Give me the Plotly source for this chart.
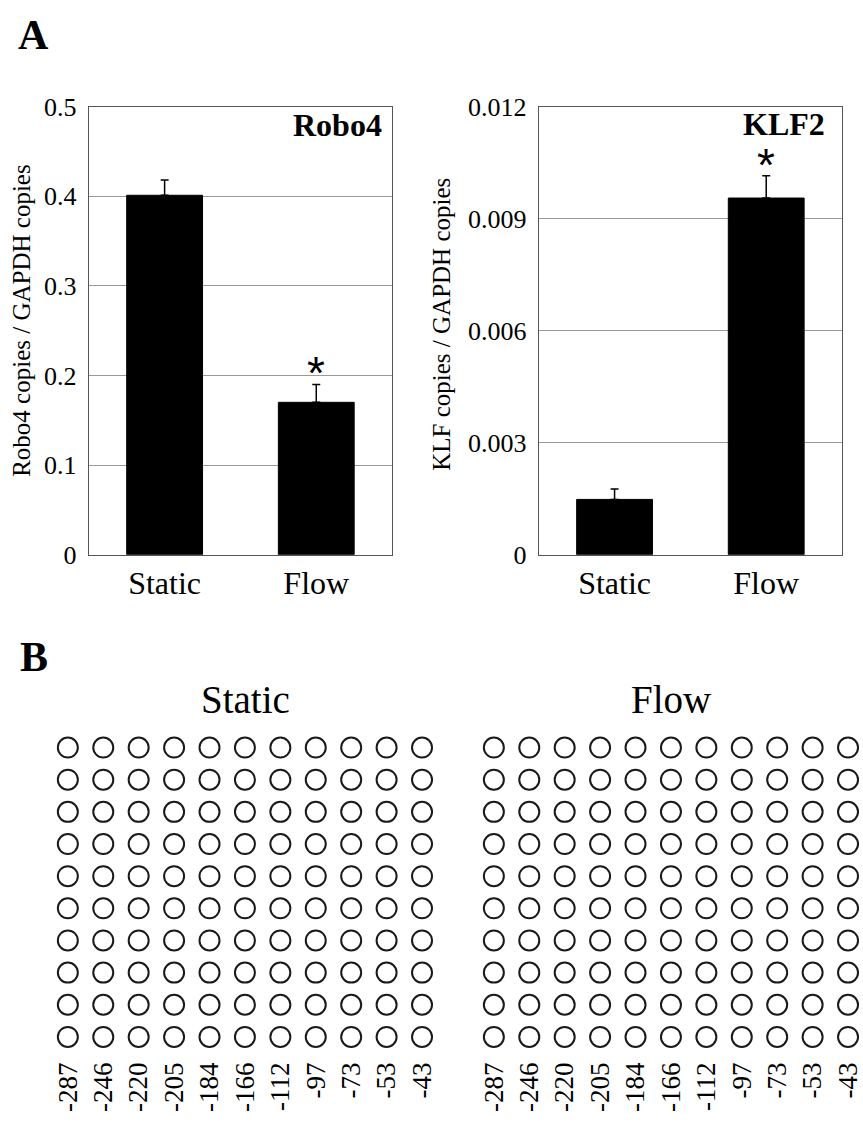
import plotly.graph_objects as go

# ---------------- data ----------------
conditions = ["Static", "Flow"]
robo4_mean = [0.401, 0.170]
robo4_err = [0.017, 0.020]
robo4_sig = [False, True]
klf2_mean = [0.00148, 0.00955]
klf2_err = [0.00028, 0.00060]
klf2_sig = [False, True]
robo4_ticks = [0, 0.1, 0.2, 0.3, 0.4, 0.5]
robo4_ticktext = ["0", "0.1", "0.2", "0.3", "0.4", "0.5"]
klf2_ticks = [0, 0.003, 0.006, 0.009, 0.012]
klf2_ticktext = ["0", "0.003", "0.006", "0.009", "0.012"]

cpg_sites = ["-287", "-246", "-220", "-205", "-184", "-166", "-112", "-97", "-73", "-53", "-43"]
clones = [1, 2, 3, 4, 5, 6, 7, 8, 9, 10]
# 0 = unmethylated (open circle), 1 = methylated (filled)
static_meth = [
    [0, 0, 0, 0, 0, 0, 0, 0, 0, 0, 0],
    [0, 0, 0, 0, 0, 0, 0, 0, 0, 0, 0],
    [0, 0, 0, 0, 0, 0, 0, 0, 0, 0, 0],
    [0, 0, 0, 0, 0, 0, 0, 0, 0, 0, 0],
    [0, 0, 0, 0, 0, 0, 0, 0, 0, 0, 0],
    [0, 0, 0, 0, 0, 0, 0, 0, 0, 0, 0],
    [0, 0, 0, 0, 0, 0, 0, 0, 0, 0, 0],
    [0, 0, 0, 0, 0, 0, 0, 0, 0, 0, 0],
    [0, 0, 0, 0, 0, 0, 0, 0, 0, 0, 0],
    [0, 0, 0, 0, 0, 0, 0, 0, 0, 0, 0],
]
flow_meth = [
    [0, 0, 0, 0, 0, 0, 0, 0, 0, 0, 0],
    [0, 0, 0, 0, 0, 0, 0, 0, 0, 0, 0],
    [0, 0, 0, 0, 0, 0, 0, 0, 0, 0, 0],
    [0, 0, 0, 0, 0, 0, 0, 0, 0, 0, 0],
    [0, 0, 0, 0, 0, 0, 0, 0, 0, 0, 0],
    [0, 0, 0, 0, 0, 0, 0, 0, 0, 0, 0],
    [0, 0, 0, 0, 0, 0, 0, 0, 0, 0, 0],
    [0, 0, 0, 0, 0, 0, 0, 0, 0, 0, 0],
    [0, 0, 0, 0, 0, 0, 0, 0, 0, 0, 0],
    [0, 0, 0, 0, 0, 0, 0, 0, 0, 0, 0],
]

# ---------------- layout helpers ----------------
W, H = 863, 1124
SERIF = "Liberation Serif"


def px(x):
    return x / W


def py(y):
    return 1 - y / H


fig = go.Figure()

# ---------------- Panel A bars ----------------
for mean, err, xa, ya in [(robo4_mean, robo4_err, "x", "y"), (klf2_mean, klf2_err, "x2", "y2")]:
    fig.add_trace(go.Bar(
        x=conditions, y=mean, xaxis=xa, yaxis=ya, width=0.5,
        marker=dict(color="black", line=dict(color="black", width=1)),
        error_y=dict(type="data", array=err, symmetric=False, arrayminus=[0, 0],
                     color="black", thickness=1.5, width=4),
    ))

# ---------------- Panel B grids ----------------
for meth, xa, ya in [(static_meth, "x3", "y3"), (flow_meth, "x4", "y4")]:
    xs, ys, syms = [], [], []
    for r, row in zip(clones, meth):
        for c, v in enumerate(row):
            xs.append(c)
            ys.append(r)
            syms.append("circle" if v else "circle-open")
    fig.add_trace(go.Scatter(
        x=xs, y=ys, xaxis=xa, yaxis=ya, mode="markers",
        marker=dict(symbol=syms, size=20, color="#1a1a1a", line=dict(width=2, color="#1a1a1a")),
        cliponaxis=False,
    ))

frame = dict(showline=True, mirror=True, linecolor="#555", linewidth=1)
tickf = dict(family=SERIF, size=26, color="black")
catf = dict(family=SERIF, size=32, color="black")

ydomA = [py(555), py(95)]
layout = dict(
    width=W, height=H, margin=dict(l=0, r=0, t=0, b=0),
    paper_bgcolor="white", plot_bgcolor="white", showlegend=False,
    xaxis=dict(domain=[px(89), px(393)], anchor="y", type="category", range=[-0.5, 1.5],
               ticks="", tickfont=catf, ticklabelstandoff=0, showgrid=False, **frame),
    yaxis=dict(domain=ydomA, anchor="x", range=[0, 0.5], tickvals=robo4_ticks, ticktext=robo4_ticktext,
               ticks="", tickfont=tickf, ticklabelstandoff=6, showgrid=True, gridcolor="#999",
               gridwidth=1, zeroline=False, **frame),
    xaxis2=dict(domain=[px(540), px(844)], anchor="y2", type="category", range=[-0.5, 1.5],
                ticks="", tickfont=catf, ticklabelstandoff=0, showgrid=False, **frame),
    yaxis2=dict(domain=ydomA, anchor="x2", range=[0, 0.012], tickvals=klf2_ticks, ticktext=klf2_ticktext,
                ticks="", tickfont=tickf, ticklabelstandoff=6, showgrid=True, gridcolor="#999",
                gridwidth=1, zeroline=False, **frame),
)

# Panel B axes
row_first, row_last = 753, 1050
rs = (row_last - row_first) / 9
ydomB = [py(row_last + rs / 2), py(row_first - rs / 2)]
colsp = 35.5
lx0 = 68
rx0 = 495
bx_common = dict(tickmode="array", tickvals=list(range(11)), ticktext=cpg_sites, tickangle=-90,
                 tickfont=dict(family=SERIF, size=27, color="black"), ticks="",
                 ticklabelstandoff=3, ticklabeloverflow="allow",
                 showgrid=False, zeroline=False, showline=False)
layout["xaxis3"] = dict(domain=[px(lx0 - colsp / 2), px(lx0 + 10 * colsp + colsp / 2)], anchor="y3",
                        range=[-0.5, 10.5], **bx_common)
right_end = rx0 + 10 * colsp + colsp / 2
over = max(0, right_end - W)
layout["xaxis4"] = dict(domain=[px(rx0 - colsp / 2), 1], anchor="y4",
                        range=[-0.5, 10.5 - over / colsp], **bx_common)
by_common = dict(range=[10.5, 0.5], showticklabels=False, showgrid=False, zeroline=False,
                 showline=False, ticks="")
layout["yaxis3"] = dict(domain=ydomB, anchor="x3", **by_common)
layout["yaxis4"] = dict(domain=ydomB, anchor="x4", **by_common)

fig.update_layout(**layout)

ann = []
# panel letters
ann.append(dict(text="<b>A</b>", x=px(16), y=py(22), xref="paper", yref="paper", xanchor="left",
                yanchor="middle", showarrow=False, font=dict(family=SERIF, size=42, color="black")))
ann.append(dict(text="<b>B</b>", x=px(18), y=py(660), xref="paper", yref="paper", xanchor="left",
                yanchor="middle", showarrow=False, font=dict(family=SERIF, size=42, color="black")))
# gene labels
ann.append(dict(text="<b>Robo4</b>", x=px(385), y=py(114), xref="paper", yref="paper", xanchor="right",
                yanchor="middle", showarrow=False, font=dict(family=SERIF, size=32, color="black")))
ann.append(dict(text="<b>KLF2</b>", x=px(829), y=py(113), xref="paper", yref="paper", xanchor="right",
                yanchor="middle", showarrow=False, font=dict(family=SERIF, size=32, color="black")))
# y titles
ann.append(dict(text="Robo4 copies / GAPDH copies", x=px(22), y=py(315),
                xref="paper", yref="paper", textangle=-90, showarrow=False,
                xanchor="center", yanchor="middle",
                font=dict(family=SERIF, size=25, color="black")))
ann.append(dict(text="KLF copies / GAPDH copies", x=px(443), y=py(318),
                xref="paper", yref="paper", textangle=-90, showarrow=False,
                xanchor="center", yanchor="middle",
                font=dict(family=SERIF, size=25, color="black")))
# significance asterisks
for means, errs, sig, xr, yr in [(robo4_mean, robo4_err, robo4_sig, "x", "y"),
                                 (klf2_mean, klf2_err, klf2_sig, "x2", "y2")]:
    for c, m, e, s in zip(conditions, means, errs, sig):
        if s:
            ann.append(dict(text="*", x=c, y=m + e, xref=xr, yref=yr, xanchor="center",
                            yanchor="bottom", yshift=-17, showarrow=False,
                            font=dict(family="Liberation Sans", size=46, color="black")))
# panel B titles
ann.append(dict(text="Static", x=px(246), y=py(704), xref="paper", yref="paper", xanchor="center",
                yanchor="middle", showarrow=False, font=dict(family=SERIF, size=39, color="black")))
ann.append(dict(text="Flow", x=px(673), y=py(704), xref="paper", yref="paper", xanchor="center",
                yanchor="middle", showarrow=False, font=dict(family=SERIF, size=39, color="black")))

fig.update_layout(annotations=ann)
fig.write_html("out.html", config={"displayModeBar": False},
               post_script="document.body.style.margin='0px';document.body.style.overflow='hidden';")
